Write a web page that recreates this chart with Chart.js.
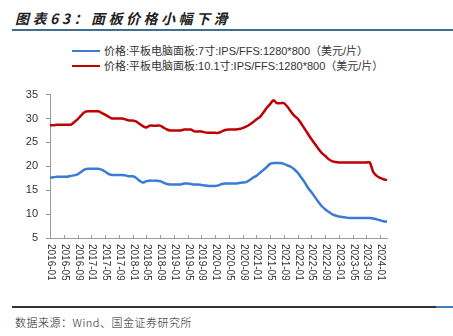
<!DOCTYPE html>
<html>
<head>
<meta charset="utf-8">
<script src="https://cdn.jsdelivr.net/npm/chart.js@4.4.1/dist/chart.umd.min.js"></script>
<style>
body{margin:0;background:#fff;width:453px;height:336px;overflow:hidden;position:relative;font-family:"Liberation Sans","Noto Sans CJK SC",sans-serif}
.title{position:absolute;left:15px;top:8px;font:italic bold 14px "Noto Sans CJK SC",sans-serif;letter-spacing:3.5px;color:#222}
.topline{position:absolute;left:12px;right:0;top:29px;height:2px;background:#3d6f94}
.leg{position:absolute;left:72px;font-size:11px;color:#333;white-space:nowrap;line-height:14px}
.leg span{display:inline-block;width:28px;height:2.5px;vertical-align:middle;margin-right:4px;position:relative;top:-1px}
.botline{position:absolute;left:12px;width:424px;top:306px;height:2px;background:#333}
.botblue{position:absolute;left:436px;right:0;top:306px;height:2px;background:#3d7fb8}
.src{position:absolute;left:15px;top:314px;font:300 11px "Noto Sans CJK SC",sans-serif;color:#222;letter-spacing:0.5px}
#wrap{position:absolute;left:0;top:80px;width:453px;height:200px}
</style>
</head>
<body>
<div class="title">图表63：面板价格小幅下滑</div>
<div class="topline"></div>
<div class="leg" style="top:44px"><span style="background:#3a7bd5"></span>价格:平板电脑面板:7寸:IPS/FFS:1280*800（美元/片）</div>
<div class="leg" style="top:59px"><span style="background:#c00000"></span>价格:平板电脑面板:10.1寸:IPS/FFS:1280*800（美元/片）</div>
<div id="wrap"><canvas id="c"></canvas></div>
<div class="botline"></div>
<div class="botblue"></div>
<div class="src">数据来源：Wind、国金证券研究所</div>
<script>
// monthly categories 2016-01 .. 2024-03
var months=[];
for(var y=2016;y<=2024;y++){for(var m=1;m<=12;m++){if(y===2024&&m>3)break;months.push(y+"-"+(m<10?"0"+m:m));}}

var tickLabels=["2016-01","2016-05","2016-09","2017-01","2017-05","2017-09","2018-01","2018-05","2018-09","2019-01","2019-05","2019-09","2020-01","2020-05","2020-09","2021-01","2021-05","2021-09","2022-01","2022-05","2022-09","2023-01","2023-05","2023-09","2024-01"];

var price7=[17.6,17.7,17.8,17.8,17.8,17.8,18.0,18.1,18.3,18.8,
  19.3,19.5,19.5,19.5,19.5,19.3,18.9,18.4,18.2,18.2,
  18.2,18.2,18.1,17.9,17.9,17.6,17.0,16.6,16.9,17.0,
  17.0,17.0,16.9,16.6,16.3,16.2,16.2,16.2,16.2,16.4,
  16.4,16.3,16.2,16.2,16.1,16.0,15.9,15.9,15.9,16.0,
  16.3,16.4,16.4,16.4,16.4,16.5,16.6,16.7,17.1,17.6,
  18.0,18.6,19.2,19.8,20.5,20.7,20.7,20.7,20.5,20.2,
  19.9,19.4,18.7,17.7,16.7,15.5,14.6,13.6,12.6,11.7,
  11.0,10.5,10.0,9.7,9.5,9.4,9.3,9.2,9.2,9.2,
  9.2,9.2,9.2,9.2,9.1,8.9,8.7,8.5,8.4];

var price101=[28.6,28.6,28.7,28.7,28.7,28.7,28.7,29.2,29.8,30.6,
  31.3,31.5,31.5,31.5,31.5,31.2,30.8,30.4,30.0,30.0,
  30.0,30.0,29.8,29.6,29.6,29.4,28.9,28.4,28.1,28.5,
  28.5,28.5,28.5,28.1,27.7,27.5,27.5,27.5,27.5,27.7,
  27.7,27.7,27.3,27.3,27.3,27.1,27.0,27.0,27.0,27.0,
  27.3,27.6,27.7,27.7,27.7,27.8,28.0,28.3,28.7,29.2,
  29.8,30.3,31.2,32.2,33.0,33.8,33.2,33.2,33.2,32.5,
  31.5,30.6,30.0,29.0,27.9,26.8,25.7,24.7,23.7,22.8,
  22.2,21.5,21.1,20.9,20.8,20.8,20.8,20.8,20.8,20.8,
  20.8,20.8,20.8,20.8,18.8,18.0,17.6,17.3,17.1];

// x ticks drawn inward + labels rotated clockwise, like the source
var xLabelPlugin={
  id:"xLabels",
  afterDraw:function(chart){
    var ctx=chart.ctx,xs=chart.scales.x,a=chart.chartArea;
    ctx.save();
    ctx.strokeStyle="#999";ctx.lineWidth=1;
    ctx.fillStyle="#333";ctx.font="10px 'Liberation Sans',Arial,sans-serif";
    ctx.textAlign="left";ctx.textBaseline="middle";
    for(var i=0;i<tickLabels.length;i++){
      var idx=months.indexOf(tickLabels[i]);
      var x=Math.round(xs.getPixelForValue(idx))+0.5;
      ctx.beginPath();ctx.moveTo(x,a.bottom);ctx.lineTo(x,a.bottom-3);ctx.stroke();
      ctx.save();ctx.translate(x,a.bottom+6);ctx.rotate(Math.PI/2);ctx.fillText(tickLabels[i],0,0);ctx.restore();
    }
    ctx.restore();
  }
};

new Chart(document.getElementById("c"),{
  type:"line",
  data:{labels:months,datasets:[
    {label:"7寸",data:price7,borderColor:"#3a7bd5",borderWidth:2.5,pointRadius:0,tension:0.3,fill:false},
    {label:"10.1寸",data:price101,borderColor:"#c00000",borderWidth:2.5,pointRadius:0,tension:0.3,fill:false}
  ]},
  options:{
    responsive:true,maintainAspectRatio:false,animation:false,
    layout:{padding:{left:0,right:66,top:11,bottom:0}},
    plugins:{legend:{display:false},tooltip:{enabled:false}},
    scales:{
      x:{offset:false,grid:{display:false},border:{display:true,color:"#999",width:1},ticks:{display:false},
        afterFit:function(s){s.height=42}},
      y:{min:5,max:35,ticks:{stepSize:5,color:"#333",font:{size:11,family:"'Liberation Sans',Arial"},padding:8},
        grid:{drawOnChartArea:false,drawTicks:true,tickLength:4,color:"#999"},border:{color:"#999",width:1},
        afterFit:function(s){s.width=50}}
    }
  },
  plugins:[xLabelPlugin]
});
</script>
</body>
</html>
